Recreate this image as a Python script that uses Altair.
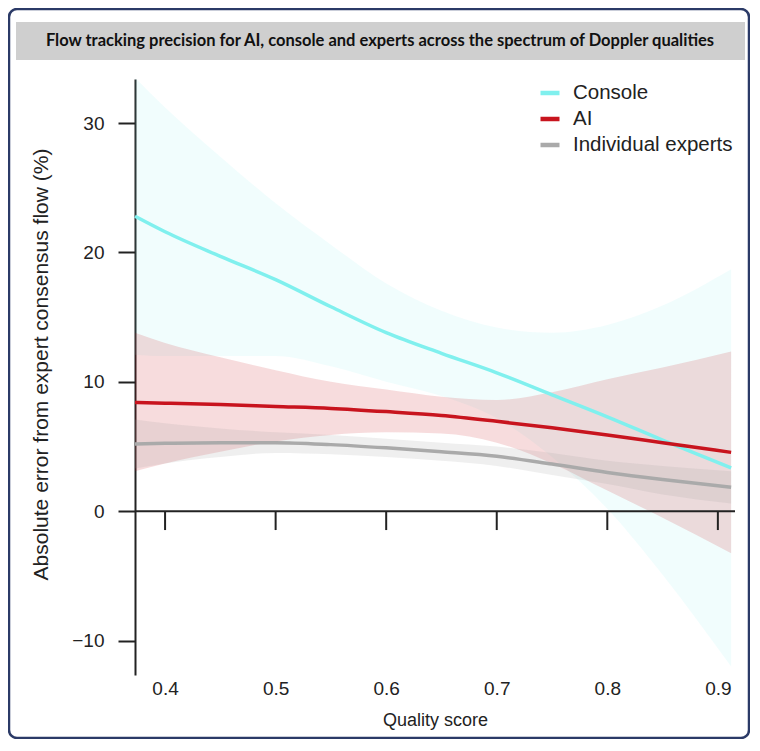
import altair as alt
import pandas as pd

TITLE = "Flow tracking precision for AI, console and experts across the spectrum of Doppler qualities"
X_TITLE = "Quality score"
Y_TITLE = "Absolute error from expert consensus flow (%)"

SERIES = ["Console", "AI", "Individual experts"]
LINE_COLORS = ["#80f0ee", "#c8141e", "#aaaaaa"]
BAND_COLORS = ["#80f0ee", "#c8141e", "#9b9b9b"]
BAND_OPACITY = [0.11, 0.15, 0.16]

quality = [0.3728, 0.40, 0.45, 0.50, 0.55, 0.60, 0.65, 0.70, 0.75, 0.80, 0.85, 0.912]

console_mean = [22.8, 21.6, 19.7, 17.9, 15.8, 13.8, 12.2, 10.7, 9.0, 7.3, 5.5, 3.35]
console_lo = [12.1, 12.0, 12.0, 12.0, 11.2, 10.0, 8.9, 7.2, 4.2, 0.2, -4.9, -12.0]
console_hi = [33.5, 31.2, 27.4, 23.8, 20.6, 17.6, 15.5, 14.2, 13.8, 14.4, 15.9, 18.7]

ai_mean = [8.4, 8.35, 8.25, 8.1, 7.95, 7.7, 7.4, 6.95, 6.45, 5.9, 5.3, 4.55]
ai_lo = [3.1, 3.7, 4.6, 5.4, 5.9, 6.1, 6.0, 5.3, 3.7, 1.6, -0.5, -3.25]
ai_hi = [13.8, 13.0, 11.9, 10.9, 10.0, 9.4, 8.85, 8.6, 9.2, 10.2, 11.1, 12.35]

exp_mean = [5.2, 5.25, 5.3, 5.3, 5.15, 4.9, 4.6, 4.25, 3.65, 3.0, 2.45, 1.85]
exp_lo = [3.3, 3.7, 4.2, 4.5, 4.4, 4.2, 3.9, 3.5, 2.8, 2.1, 1.3, 0.6]
exp_hi = [7.1, 6.8, 6.4, 6.1, 5.9, 5.6, 5.3, 5.0, 4.5, 3.9, 3.5, 3.1]

X_TICKS = [0.4, 0.5, 0.6, 0.7, 0.8, 0.9]
Y_TICKS = [-10, 0, 10, 20, 30]
X_DOMAIN = [0.3728, 0.9155]
Y_DOMAIN = [-12.65, 33.4]
TICK_DROP = -1.45

rows = []
for name, m, lo, hi in [
    ("Console", console_mean, console_lo, console_hi),
    ("AI", ai_mean, ai_lo, ai_hi),
    ("Individual experts", exp_mean, exp_lo, exp_hi),
]:
    for q, a, b, c in zip(quality, m, lo, hi):
        rows.append({"quality": q, "series": name, "mean": a, "lo": b, "hi": c})
df = pd.DataFrame(rows)

axis_df = pd.DataFrame({"x0": [X_DOMAIN[0]], "x1": [X_DOMAIN[1]], "y": [0]})
tick_df = pd.DataFrame({"x": X_TICKS, "y": [0] * len(X_TICKS), "y2": [TICK_DROP] * len(X_TICKS)})
title_df = pd.DataFrame({"title": [TITLE]})

FONT = "Liberation Sans"
INK = "#222222"

x_scale = alt.Scale(domain=X_DOMAIN, nice=False, zero=False)
y_scale = alt.Scale(domain=Y_DOMAIN, nice=False, zero=False)
color_scale = alt.Scale(domain=SERIES, range=LINE_COLORS)

x_axis = alt.Axis(values=X_TICKS, format=".1f", domain=False, ticks=False, grid=False,
                  labelPadding=4, labelFontSize=19, labelFont=FONT, labelColor=INK,
                  title=X_TITLE, titleFontSize=18, titleFont=FONT, titleFontWeight="normal",
                  titleColor=INK, titlePadding=13)
y_axis = alt.Axis(values=Y_TICKS, grid=False, tickSize=17, tickWidth=2, tickColor=INK,
                  domainColor=INK, domainWidth=2, labelPadding=14, labelFontSize=19,
                  labelFont=FONT, labelColor=INK,
                  title=Y_TITLE, titleFontSize=21, titleFont=FONT, titleFontWeight="normal",
                  titleColor=INK, titlePadding=20, titleY=285)

legend = alt.Legend(title=None, orient="top-right", offset=2,
                    symbolType="stroke", symbolSize=361, symbolStrokeWidth=4.5,
                    labelFontSize=20.5, labelFont=FONT, labelColor=INK,
                    rowPadding=3, labelOffset=11, padding=0)

# decorations: outer frame and grey title box
frame = alt.Chart(title_df).mark_rect(fillOpacity=0, stroke="#2b3a67", strokeWidth=2.5,
                                      cornerRadius=8).encode(
    x=alt.value(-126), x2=alt.value(614), y=alt.value(-70), y2=alt.value(659))
title_box = alt.Chart(title_df).mark_rect(fill="#cfcfcf").encode(
    x=alt.value(-119), x2=alt.value(610), y=alt.value(-57), y2=alt.value(-19))
title_text = alt.Chart(title_df).mark_text(font="Lato", fontWeight="bold", fontSize=16.5,
                                           color="#111111", align="center", baseline="middle").encode(
    text="title:N", x=alt.value(245), y=alt.value(-38))

band_layers = []
for i, name in enumerate(SERIES):
    if i == 0:
        enc = dict(x=alt.X("quality:Q", scale=x_scale, axis=x_axis),
                   y=alt.Y("lo:Q", scale=y_scale, axis=y_axis), y2="hi:Q")
    else:
        enc = dict(x=alt.X("quality:Q", scale=x_scale),
                   y=alt.Y("lo:Q", scale=y_scale), y2="hi:Q")
    band_layers.append(
        alt.Chart(df).transform_filter(alt.datum.series == name)
        .mark_area(interpolate="monotone", clip=True, color=BAND_COLORS[i], opacity=BAND_OPACITY[i])
        .encode(**enc)
    )

lines = alt.Chart(df).mark_line(interpolate="monotone", strokeWidth=3.5).encode(
    x=alt.X("quality:Q", scale=x_scale),
    y=alt.Y("mean:Q", scale=y_scale),
    color=alt.Color("series:N", scale=color_scale, legend=legend),
)

zero_line = alt.Chart(axis_df).mark_rule(color=INK, strokeWidth=2).encode(
    x=alt.X("x0:Q", scale=x_scale), x2="x1:Q", y=alt.Y("y:Q", scale=y_scale))
x_ticks = alt.Chart(tick_df).mark_rule(color=INK, strokeWidth=2).encode(
    x=alt.X("x:Q", scale=x_scale), y=alt.Y("y:Q", scale=y_scale), y2="y2:Q")

chart = alt.layer(frame, title_box, title_text, *band_layers, lines, zero_line, x_ticks).properties(
    width=600, height=596,
    autosize=alt.AutoSizeParams(type="none"),
    padding={"left": 127, "top": 71, "right": 15, "bottom": 64},
    background="white",
).configure_view(stroke=None)

chart.save("out.html", embed_options={"renderer": "svg", "actions": False})
